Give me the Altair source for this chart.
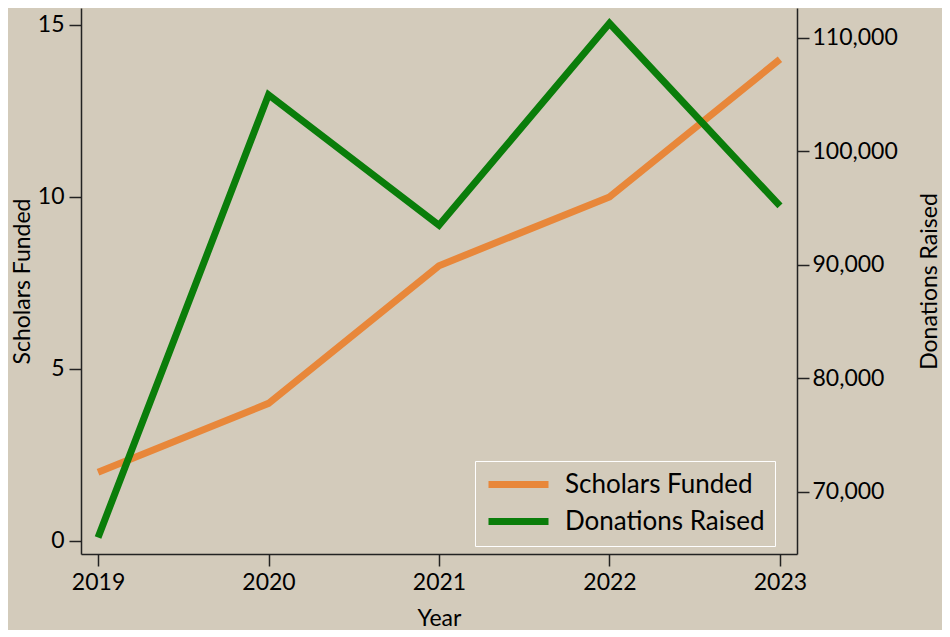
import altair as alt
import pandas as pd

years = [2019, 2020, 2021, 2022, 2023]
scholars = [2, 4, 8, 10, 14]
donations = [66000, 105000, 93500, 111300, 95200]
series_names = ["Scholars Funded", "Donations Raised"]
series_colors = ["#e8873a", "#0a7d0a"]
left_ticks = [0, 5, 10, 15]
right_ticks = [70000, 80000, 90000, 100000, 110000]

df = pd.DataFrame({"Year": years, "Scholars": scholars, "Donations": donations})

BG = "#d3cbbb"
FONT = "Lato"

color_scale = alt.Scale(domain=series_names, range=series_colors)

x_enc = alt.X(
    "Year:Q",
    scale=alt.Scale(domain=[2018.9, 2023.1], nice=False, zero=False),
    axis=alt.Axis(values=years, format="d", title="Year", labelPadding=5, titlePadding=13),
)

left = (
    alt.Chart(df)
    .transform_calculate(series="'Scholars Funded'")
    .mark_line(strokeWidth=7, strokeCap="butt")
    .encode(
        x=x_enc,
        y=alt.Y(
            "Scholars:Q",
            scale=alt.Scale(domain=[-0.378, 15.49], nice=False, zero=False),
            axis=alt.Axis(values=left_ticks, title="Scholars Funded", orient="left",
                          labelPadding=5, titlePadding=3),
        ),
        color=alt.Color(
            "series:N",
            scale=color_scale,
            legend=alt.Legend(
                title=None,
                orient="none",
                legendX=394,
                legendY=453,
                fillColor=BG,
                strokeColor="white",
                padding=10,
                symbolType="M-1,0L5,0",
                symbolSize=400,
                symbolStrokeWidth=7,
                labelFontSize=26,
                labelFont=FONT,
                labelColor="black",
                labelOffset=53,
                labelLimit=400,
                rowPadding=8,
            ),
        ),
    )
)

right = (
    alt.Chart(df)
    .transform_calculate(series="'Donations Raised'")
    .mark_line(strokeWidth=7, strokeCap="butt")
    .encode(
        x=x_enc,
        y=alt.Y(
            "Donations:Q",
            scale=alt.Scale(domain=[64537, 112643], nice=False, zero=False),
            axis=alt.Axis(values=right_ticks, format=",d", title="Donations Raised",
                          orient="right", labelPadding=3, titlePadding=44, titleAngle=270),
        ),
        color=alt.Color("series:N", scale=color_scale),
    )
)

chart = (
    alt.layer(left, right)
    .resolve_scale(y="independent")
    .properties(width=716, height=546, background=BG,
                padding={"left": 3, "top": 0, "right": 0, "bottom": 0})
    .configure_view(stroke=None, fill=BG)
    .configure_axis(
        grid=False,
        domainColor="#222222",
        domainWidth=1.5,
        tickColor="#222222",
        tickWidth=1.5,
        tickSize=12,
        labelFont=FONT,
        labelFontSize=23,
        labelColor="black",
        titleFont=FONT,
        titleFontSize=23,
        titleFontWeight="normal",
        titleColor="black",
    )
)

chart.save("out.html", embed_options={"renderer": "svg", "actions": False})
